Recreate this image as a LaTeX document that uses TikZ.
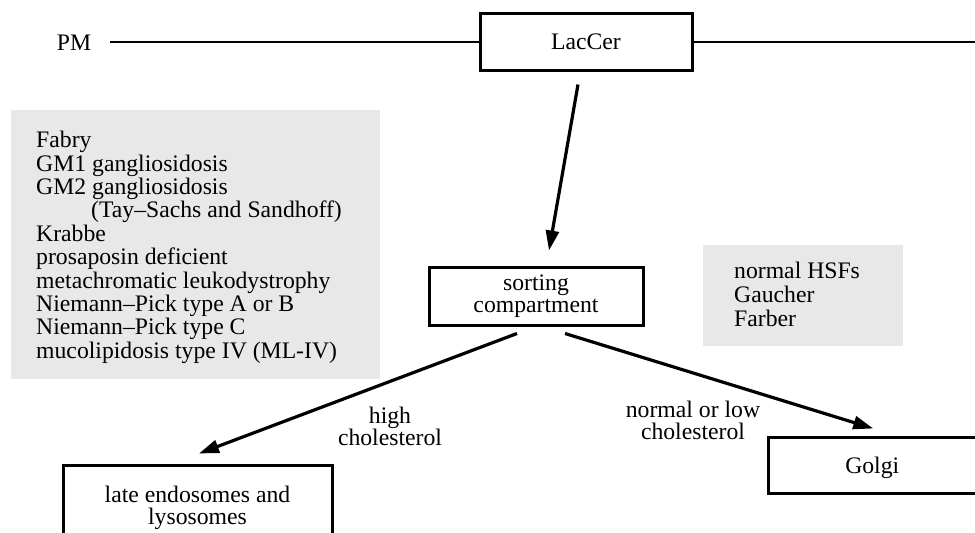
\documentclass[tikz,border=0pt]{standalone}
\usepackage{fontspec}
\setmainfont{Liberation Serif}
\usetikzlibrary{arrows.meta}
\definecolor{panelgray}{RGB}{232,232,232}
\tikzset{
  txt/.style={inner sep=0pt, font=\fontsize{23.7}{23.4}\selectfont},
  cellbox/.style={draw=black, line width=3pt, fill=white, inner sep=0pt, align=center, font=\fontsize{23.7}{22}\selectfont},
  panel/.style={fill=panelgray, draw=none, inner sep=0pt, anchor=north west},
  memb/.style={line width=2pt},
  flow/.style={line width=3.2pt, -{Triangle[length=20pt,width=13pt]}},
}
\begin{document}
\begin{tikzpicture}[x=1pt,y=-1pt]
\clip (0,0) rectangle (975,533);
\fill[white] (0,0) rectangle (975,533);

% membrane
\node[txt, anchor=base] (pm) at (74,50) {PM};
\node[cellbox, minimum width=212pt, minimum height=57pt] (lac) at (586,41.5) {LacCer};
\coordinate (pmL) at (110,41.5);
\coordinate (pmR) at (976,41.5);
\draw[memb] (pmL) -- (lac.west);
\draw[memb] (lac.east) -- (pmR);

% gray panels
\node[panel, minimum width=369pt, minimum height=269pt] (dispanel) at (11,110) {};
\node[txt, anchor=north west, align=left] (distext) at (36,131) {Fabry\\GM1 gangliosidosis\\GM2 gangliosidosis\\\hspace*{55pt}(Tay–Sachs and Sandhoff)\\Krabbe\\prosaposin deficient\\metachromatic leukodystrophy\\Niemann–Pick type A or B\\Niemann–Pick type C\\mucolipidosis type IV (ML-IV)};

\node[panel, minimum width=200pt, minimum height=101pt] (normpanel) at (703,245) {};
\node[txt, anchor=north west, align=left, font=\fontsize{23.7}{24}\selectfont] (normtext) at (734,262) {normal HSFs\\Gaucher\\Farber};

% compartments
\node[cellbox, minimum width=214pt, minimum height=58pt] (sort) at (536,296) {sorting\\compartment};
\node[cellbox, minimum width=269pt, minimum height=85pt] (late) at (197.5,507.5) {late endosomes and\\lysosomes};
\node[cellbox, minimum width=208.5pt, minimum height=56pt, text depth=0pt] (golgi) at (872.25,465) {Golgi};

% arrows
\draw[flow] ([xshift=-8pt,yshift=-13pt]lac.south) -- ([xshift=13pt,yshift=15pt]sort.north);
\draw[flow] ([xshift=-19pt,yshift=-7pt]sort.south) -- ([xshift=1.5pt,yshift=10pt]late.north);
\draw[flow] ([xshift=29pt,yshift=-7pt]sort.south) -- ([xshift=1pt,yshift=7pt]golgi.north);

% labels
\node[txt, anchor=north, align=center, font=\fontsize{23.7}{22}\selectfont] (lhigh) at (390,407) {high\\cholesterol};
\node[txt, anchor=north, align=center, font=\fontsize{23.7}{22}\selectfont] (llow) at (693,401) {normal or low\\cholesterol};
\end{tikzpicture}
\end{document}
